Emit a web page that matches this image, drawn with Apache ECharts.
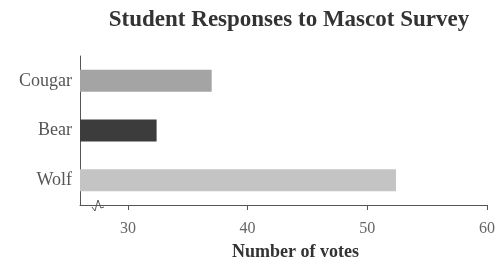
<!DOCTYPE html>
<html>
<head>
<meta charset="utf-8">
<script src="https://cdn.jsdelivr.net/npm/echarts@6/dist/echarts.min.js"></script>
<style>
  html, body { margin: 0; padding: 0; background: #fff; }
  #chart { width: 498px; height: 266px; }
</style>
</head>
<body>
<div id="chart"></div>
<script>
// values
const mascots = ['Cougar', 'Bear', 'Wolf']
const votes = [37, 32.4, 52.4]
const barColors = ['#a4a4a4', '#3c3c3c', '#c4c4c4']
const tickValues = [30, 40, 50, 60]

const chart = echarts.init(document.getElementById('chart'))

const serif = '"Liberation Serif", "DejaVu Serif", serif'

const option = {
  animation: false,
  title: {
    text: 'Student Responses to Mascot Survey',
    left: 284,
    top: 4,
    textAlign: 'center',
    textStyle: { fontFamily: serif, fontSize: 23, fontWeight: 'bold', color: '#333' }
  },
  grid: { left: 80, right: 8, top: 56, bottom: 59 },
  xAxis: {
    type: 'value',
    min: 26,
    max: 60,
    name: 'Number of votes',
    nameLocation: 'middle',
    nameGap: 38,
    nameTextStyle: { fontFamily: serif, fontSize: 18, fontWeight: 'bold', color: '#333', padding: [0, 0, 0, 24] },
    axisLine: { show: true, lineStyle: { color: '#555', width: 1 } },
    axisTick: { show: true, customValues: tickValues, length: 5, lineStyle: { color: '#555' } },
    axisLabel: { customValues: tickValues, fontFamily: serif, fontSize: 16, color: '#666', margin: 16 },
    splitLine: { show: false }
  },
  yAxis: {
    type: 'category',
    data: mascots,
    inverse: true,
    axisLine: { show: true, lineStyle: { color: '#555', width: 1 } },
    axisTick: { show: false },
    axisLabel: { fontFamily: serif, fontSize: 18, color: '#555', margin: 8 }
  },
  series: [{
    type: 'bar',
    data: votes.map((v, i) => ({ value: v, itemStyle: { color: barColors[i] } })),
    barWidth: 22
  }]
}

chart.setOption(option)

// small zigzag on the axis to show the break between 0 and 30
const p = chart.convertToPixel({ gridIndex: 0 }, [27.5, 2])
const y0 = 207
chart.setOption({
  graphic: [{
    type: 'line',
    shape: { x1: p[0] - 5, y1: y0, x2: p[0] + 5, y2: y0 },
    style: { stroke: '#fff', lineWidth: 3 }
  }, {
    type: 'polyline',
    shape: { points: [[p[0] - 6, y0], [p[0] - 3, y0 + 4], [p[0], y0 - 7], [p[0] + 3, y0 + 1], [p[0] + 6, y0]] },
    style: { stroke: '#555', lineWidth: 1, fill: null }
  }]
})
</script>
</body>
</html>
